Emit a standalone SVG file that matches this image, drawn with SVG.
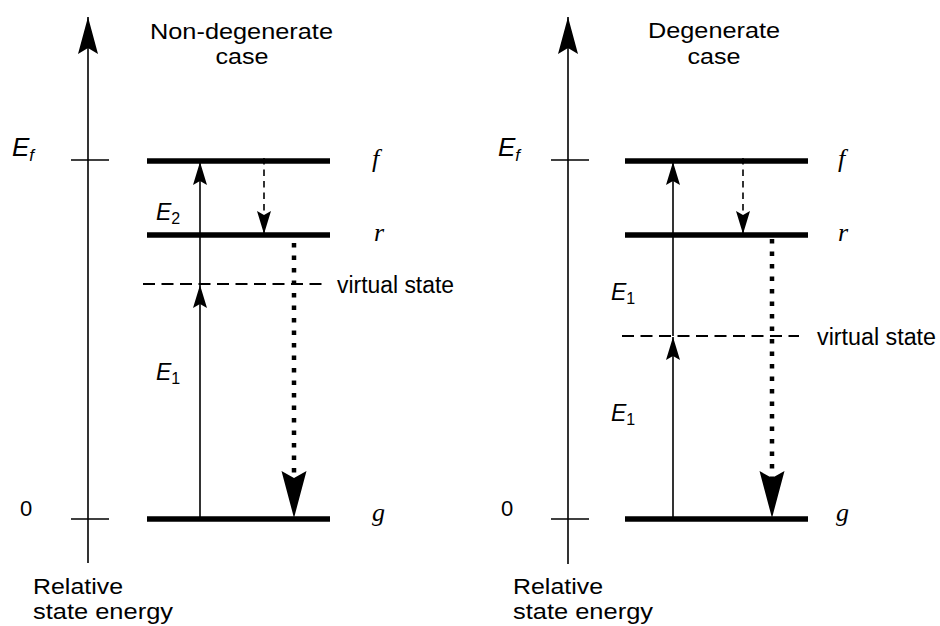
<svg xmlns="http://www.w3.org/2000/svg" width="940" height="626" viewBox="0 0 940 626">
  <style>
    .sans { font-family: "Liberation Sans", Arial, sans-serif; fill: #000; }
    .title { font-size: 22px; }
    .lbl { font-size: 23px; }
    .zero { font-size: 22px; }
    .eng { font-size: 23px; font-style: italic; }
    .engf { font-size: 26px; font-style: italic; }
    .sub { font-size: 16px; font-style: normal; }
    .subi { font-size: 17px; font-style: italic; }
    .state { font-family: "Liberation Serif", "Times New Roman", serif; font-style: italic; font-size: 26px; fill: #000; }
    .axis { stroke: #000; stroke-width: 1.6; fill: none; }
    .tick { stroke: #000; stroke-width: 1.6; }
    .level { stroke: #000; stroke-width: 5.5; }
    .virtual { stroke: #000; stroke-width: 2; stroke-dasharray: 12 6.5; }
    .up { stroke: #000; stroke-width: 1.6; fill: none; }
    .dash { stroke: #000; stroke-width: 1.6; stroke-dasharray: 6.5 5; fill: none; }
    .dot { stroke: #000; stroke-width: 4.5; stroke-dasharray: 4.5 8; fill: none; }
  </style>
  <defs>
    <marker id="axisHead" markerUnits="userSpaceOnUse" viewBox="-38 -11 39 22" refX="0" refY="0" markerWidth="39" markerHeight="22" orient="auto">
      <path d="M0,0 L-37,-10 L-31,0 L-37,10 Z" fill="#000"/>
    </marker>
    <marker id="smallHead" markerUnits="userSpaceOnUse" viewBox="-24 -8 25 16" refX="0" refY="0" markerWidth="25" markerHeight="16" orient="auto">
      <path d="M0,0 L-23,-7 L-19,0 L-23,7 Z" fill="#000"/>
    </marker>
    <marker id="bigHead" markerUnits="userSpaceOnUse" viewBox="-48 -13 49 26" refX="-40" refY="0" markerWidth="49" markerHeight="26" orient="auto">
      <path d="M0,0 L-47,-12.5 L-40,0 L-47,12.5 Z" fill="#000"/>
    </marker>
  </defs>
  <rect width="940" height="626" fill="#fff"/>

  <!-- Left: Non-degenerate case -->
  <g id="title-left">
    <text class="sans title" text-anchor="middle"><tspan x="241.5" y="39" textLength="183" lengthAdjust="spacingAndGlyphs">Non-degenerate</tspan><tspan x="242" y="64" textLength="53" lengthAdjust="spacingAndGlyphs">case</tspan></text>
  </g>
  <g id="axis-left">
    <line class="tick" x1="71" y1="160" x2="109" y2="160"/>
    <line class="tick" x1="71" y1="519" x2="109" y2="519"/>
    <text class="sans engf" x="12" y="156">E<tspan class="subi" dy="5">f</tspan></text>
    <text class="sans zero" x="20" y="516">0</text>
    <text class="sans title"><tspan x="33" y="594" textLength="90" lengthAdjust="spacingAndGlyphs">Relative</tspan><tspan x="33" y="619" textLength="140" lengthAdjust="spacingAndGlyphs">state energy</tspan></text>
  </g>
  <g id="level-f-left">
    <line class="level" x1="147" y1="161" x2="330" y2="161"/>
    <text class="state" x="372" y="167">f</text>
  </g>
  <g id="level-r-left">
    <line class="level" x1="147" y1="235" x2="330" y2="235"/>
    <text class="state" x="374" y="241">r</text>
  </g>
  <g id="virtual-left">
    <line class="virtual" x1="143" y1="284" x2="324" y2="284"/>
    <text class="sans lbl" x="337" y="293" textLength="117" lengthAdjust="spacingAndGlyphs">virtual state</text>
  </g>
  <g id="level-g-left">
    <line class="level" x1="147" y1="519" x2="330" y2="519"/>
    <text class="state" x="372" y="521">g</text>
  </g>
  <g id="energy-labels-left">
    <text class="sans eng" x="156" y="220">E<tspan class="sub" dy="4">2</tspan></text>
    <text class="sans eng" x="156" y="380">E<tspan class="sub" dy="4">1</tspan></text>
  </g>

  <!-- Right: Degenerate case -->
  <g id="title-right">
    <text class="sans title" text-anchor="middle"><tspan x="714" y="38" textLength="132" lengthAdjust="spacingAndGlyphs">Degenerate</tspan><tspan x="714" y="64" textLength="53" lengthAdjust="spacingAndGlyphs">case</tspan></text>
  </g>
  <g id="axis-right">
    <line class="tick" x1="551" y1="160" x2="589" y2="160"/>
    <line class="tick" x1="551" y1="519" x2="589" y2="519"/>
    <text class="sans engf" x="498" y="156">E<tspan class="subi" dy="5">f</tspan></text>
    <text class="sans zero" x="501" y="516">0</text>
    <text class="sans title"><tspan x="513" y="594" textLength="90" lengthAdjust="spacingAndGlyphs">Relative</tspan><tspan x="513" y="619" textLength="140" lengthAdjust="spacingAndGlyphs">state energy</tspan></text>
  </g>
  <g id="level-f-right">
    <line class="level" x1="625" y1="161" x2="808" y2="161"/>
    <text class="state" x="838" y="167">f</text>
  </g>
  <g id="level-r-right">
    <line class="level" x1="625" y1="235" x2="808" y2="235"/>
    <text class="state" x="838" y="241">r</text>
  </g>
  <g id="virtual-right">
    <line class="virtual" x1="622" y1="336" x2="799" y2="336"/>
    <text class="sans lbl" x="817" y="345" textLength="119" lengthAdjust="spacingAndGlyphs">virtual state</text>
  </g>
  <g id="level-g-right">
    <line class="level" x1="625" y1="519" x2="808" y2="519"/>
    <text class="state" x="836" y="521">g</text>
  </g>
  <g id="energy-labels-right">
    <text class="sans eng" x="611" y="300">E<tspan class="sub" dy="4">1</tspan></text>
    <text class="sans eng" x="611" y="421">E<tspan class="sub" dy="4">1</tspan></text>
  </g>

  <g id="connectors">
    <!-- axes -->
    <path class="axis" d="M88,563 V17" marker-end="url(#axisHead)"/>
    <path class="axis" d="M568,564 V17" marker-end="url(#axisHead)"/>
    <!-- left transitions -->
    <path class="up" d="M200,519 V285" marker-end="url(#smallHead)"/>
    <path class="up" d="M200,284 V162" marker-end="url(#smallHead)"/>
    <path class="dash" d="M264,158 V234" marker-end="url(#smallHead)"/>
    <path class="dot" d="M294,243 V478" marker-end="url(#bigHead)"/>
    <!-- right transitions -->
    <path class="up" d="M673,519 V337" marker-end="url(#smallHead)"/>
    <path class="up" d="M673,336 V162" marker-end="url(#smallHead)"/>
    <path class="dash" d="M743,158 V234" marker-end="url(#smallHead)"/>
    <path class="dot" d="M772,239 V478" marker-end="url(#bigHead)"/>
  </g>
</svg>
